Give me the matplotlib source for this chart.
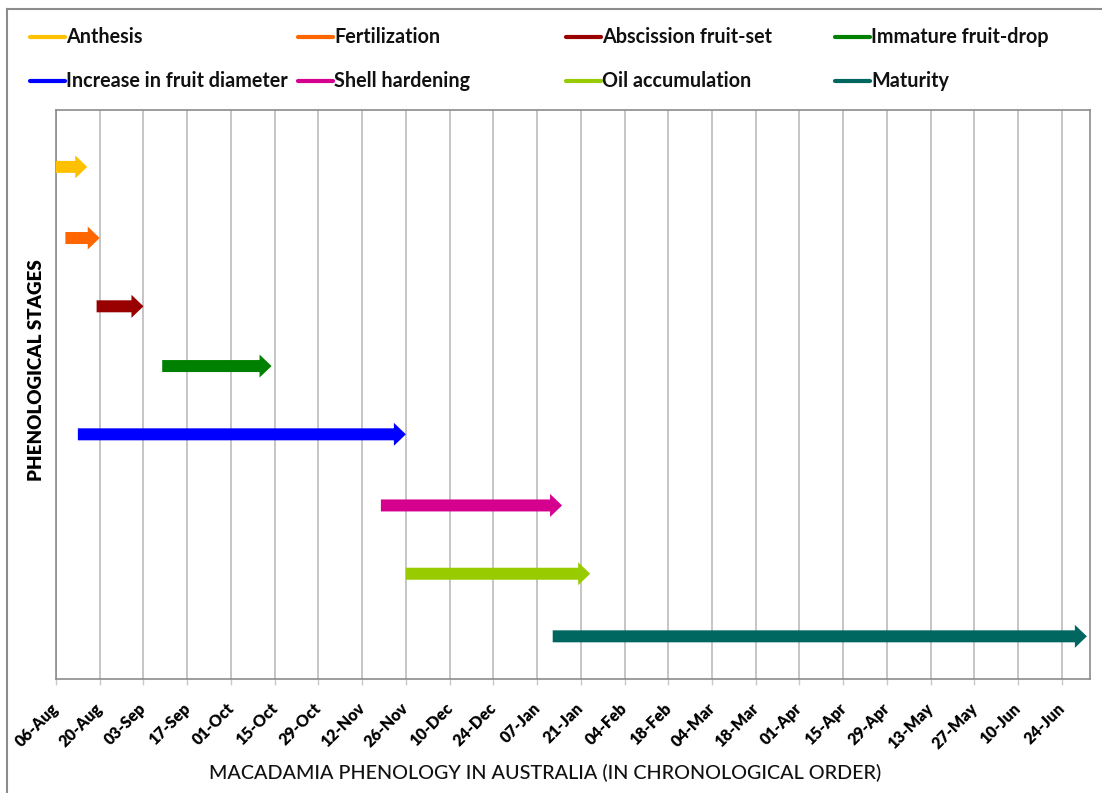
import matplotlib
matplotlib.use("Agg")
import matplotlib.pyplot as plt
import matplotlib.dates as mdates
from matplotlib.lines import Line2D
from matplotlib.transforms import ScaledTranslation
import pandas as pd

# Phenological stages of macadamia, with start and end dates of each stage
stages = ["Anthesis", "Fertilization", "Abscission fruit-set", "Immature fruit-drop",
          "Increase in fruit diameter", "Shell hardening", "Oil accumulation", "Maturity"]
starts = ["2014-08-06", "2014-08-09", "2014-08-19", "2014-09-09",
          "2014-08-13", "2014-11-18", "2014-11-26", "2015-01-12"]
ends = ["2014-08-16", "2014-08-20", "2014-09-03", "2014-10-14",
        "2014-11-26", "2015-01-15", "2015-01-24", "2015-07-02"]
levels = [9.0, 7.75, 6.55, 5.5, 4.3, 3.05, 1.85, 0.75]
colors = ["#FFC000", "#FF6600", "#990000", "#008000",
          "#0000FF", "#D6008F", "#99CC00", "#006660"]

tick_dates = pd.date_range("2014-08-06", periods=24, freq="14D")
tick_labels = ["06-Aug", "20-Aug", "03-Sep", "17-Sep", "01-Oct", "15-Oct", "29-Oct",
               "12-Nov", "26-Nov", "10-Dec", "24-Dec", "07-Jan", "21-Jan", "04-Feb",
               "18-Feb", "04-Mar", "18-Mar", "01-Apr", "15-Apr", "29-Apr", "13-May",
               "27-May", "10-Jun", "24-Jun"]
x_min, x_max = "2014-08-06", "2015-07-03"

FONT = "Lato"
W, H = 1102, 793
fig = plt.figure(figsize=(W / 100, H / 100), dpi=100)
fig.patch.set_facecolor("white")

def fx(px):
    return px / W

def fy(py):
    return 1 - py / H

ax = fig.add_axes([fx(56), fy(679), fx(1090) - fx(56), fy(110) - fy(679)])
x0 = mdates.date2num(pd.Timestamp(x_min))
x1 = mdates.date2num(pd.Timestamp(x_max))
ax.set_xlim(x0, x1)
ax.set_ylim(0, 10)

# vertical gridlines at each fortnight
tick_nums = mdates.date2num(tick_dates)
ax.set_xticks(tick_nums)
ax.xaxis.grid(True, color="#c0c0c0", linewidth=1.3)
ax.set_axisbelow(True)
ax.set_yticks([])
for sp in ax.spines.values():
    sp.set_color("#8c8c8c")
    sp.set_linewidth(1.2)
ax.tick_params(axis="x", length=4, width=1, color="#c8c8c8", pad=2)

offset = ScaledTranslation(6 / 100, -13 / 100, fig.dpi_scale_trans)
ax.set_xticklabels(tick_labels, rotation=45, ha="right", va="top",
                   fontfamily=FONT, fontweight="heavy", fontsize=11.5)
for lab in ax.get_xticklabels():
    lab.set_transform(lab.get_transform() + offset)

# stage arrows
px_per_y = (679 - 110) / 10.0
px_per_day = (1090 - 56) / (x1 - x0)
for s, e, lv, c in zip(starts, ends, levels, colors):
    xs = mdates.date2num(pd.Timestamp(s))
    xe = mdates.date2num(pd.Timestamp(e))
    ax.arrow(xs, lv, xe - xs, 0, width=12 / px_per_y, head_width=23 / px_per_y,
             head_length=12 / px_per_day, length_includes_head=True,
             color=c, linewidth=0, clip_on=False, zorder=3)

# legend in two rows of four
col_x = [30, 298, 566, 835]
row_y = [37, 81]
for i, (name, c) in enumerate(zip(stages, colors)):
    r, k = divmod(i, 4)
    hx = col_x[k]
    y = row_y[r]
    fig.add_artist(Line2D([fx(hx), fx(hx + 35)], [fy(y), fy(y)], color=c,
                          linewidth=3, solid_capstyle="round"))
    fig.text(fx(hx + 36), fy(y), name, ha="left", va="center",
             fontfamily=FONT, fontweight="bold", fontsize=14.2, color="#111111")

# axis titles
fig.text(fx(37), fy(370), "PHENOLOGICAL STAGES", rotation=90, ha="center",
         va="center", fontfamily=FONT, fontweight="heavy", fontsize=13.5)
fig.text(fx(545), fy(773), "MACADAMIA PHENOLOGY IN AUSTRALIA (IN CHRONOLOGICAL ORDER)",
         ha="center", va="center", fontfamily=FONT, fontweight="medium",
         fontsize=14.2, color="#111111")

# outer frame
fig.add_artist(Line2D([fx(7), fx(7)], [fy(9), 0], color="#8c8c8c", linewidth=1.5))
fig.add_artist(Line2D([fx(7), 1], [fy(9), fy(9)], color="#8c8c8c", linewidth=1.5))

fig.savefig("out.png", dpi=100, facecolor="white")
